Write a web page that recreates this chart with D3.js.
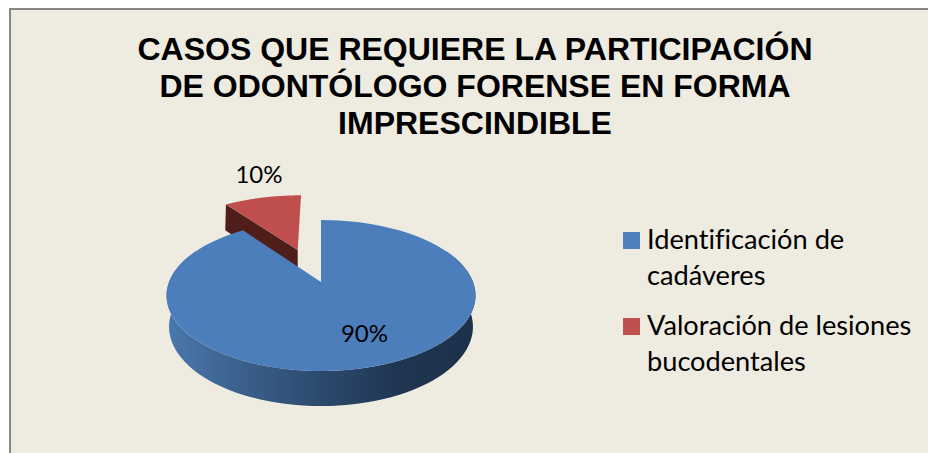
<!DOCTYPE html>
<html><head><meta charset="utf-8">
<script src="https://cdn.jsdelivr.net/npm/d3@7/dist/d3.min.js"></script>
<style>html,body{margin:0;padding:0;background:#fff}svg{display:block}text{font-variant-ligatures:none}</style>
</head><body><svg id="c" width="928" height="453"></svg>
<script>
const titleLines = ["CASOS QUE REQUIERE LA PARTICIPACIÓN","DE ODONTÓLOGO FORENSE EN FORMA","IMPRESCINDIBLE"];
const categories = ["Identificación de cadáveres","Valoración de lesiones bucodentales"];
const legendLines = [["Identificación de","cadáveres"],["Valoración de lesiones","bucodentales"]];
const values = [90,10];
const valueLabels = ["90%","10%"];

const svg = d3.select("#c");
const BG="#eeebe0", BLUE="#4c7ebb", RED="#be4f4c";
svg.append("rect").attr("x",10).attr("y",9).attr("width",930).attr("height",460)
  .attr("fill",BG).attr("stroke","#868686").attr("stroke-width",2);

const defs=svg.append("defs");
const g=defs.append("linearGradient").attr("id","side").attr("gradientUnits","userSpaceOnUse")
  .attr("x1",167).attr("x2",476).attr("y1",0).attr("y2",0);
[[0,"#4a78ad"],[.25,"#3a5f8a"],[.5,"#2c4a6e"],[.75,"#1f3551"],[1,"#1d304a"]]
  .forEach(([o,c])=>g.append("stop").attr("offset",o).attr("stop-color",c));

const arcs=d3.pie().sort(null).startAngle(0).endAngle(2*Math.PI)(values);
const blue=arcs[0], red=arcs[1];

const top3d={x0:321,y0:282,X:152,Y:73.1,k:.179};
const bot3d={x0:321,y0:314,X:150,Y:77.3,k:.16};
const proj=(p,u,v)=>{const w=1+p.k*v;return [p.x0+p.X*u/w,p.y0-p.Y*v/w];};
const line=d3.line();
const samples=(a,b)=>d3.range(0,81).map(i=>a+(b-a)*i/80);
const edge=(p,a,ox=0,oy=0,r=1)=>proj(p,r*Math.sin(a)+ox,r*Math.cos(a)+oy);

const mid=(red.startAngle+red.endAngle)/2, d=.5, rr=1.03;
const ox=Math.sin(mid)*d-.012, oy=Math.cos(mid)*d;
const redTop=[proj(top3d,ox,oy),...samples(red.startAngle,red.endAngle).map(a=>edge(top3d,a,ox,oy,rr))];
const cut=[proj(top3d,ox,oy),edge(top3d,red.startAngle,ox,oy,rr),edge(bot3d,red.startAngle,ox,oy,rr),proj(bot3d,ox,oy)];
svg.append("path").attr("d",line(cut)+"Z").attr("fill","#4f1e1b");
svg.append("path").attr("d",line(redTop)+"Z").attr("fill",RED);

const front=samples(Math.PI*.35,Math.PI*1.65);
const wall=[...front.map(a=>edge(top3d,a)),...front.slice().reverse().map(a=>edge(bot3d,a))];
svg.append("path").attr("d",line(wall)+"Z").attr("fill","url(#side)");
const blueTop=[proj(top3d,0,0),...samples(blue.startAngle,blue.endAngle).map(a=>edge(top3d,a))];
svg.append("path").attr("d",line(blueTop)+"Z").attr("fill",BLUE);

const body="Lato, Carlito, sans-serif";
const labelPos=[[364.5,342],[259,183]];
svg.selectAll("text.v").data(valueLabels).join("text").attr("class","v")
  .attr("x",(_,i)=>labelPos[i][0]).attr("y",(_,i)=>labelPos[i][1])
  .attr("text-anchor","middle").attr("font-family",body).attr("font-size",24).attr("fill","#000")
  .text(t=>t);

svg.selectAll("text.t").data(titleLines).join("text").attr("class","t")
  .attr("x",475).attr("y",(_,i)=>59.5+i*37)
  .attr("text-anchor","middle").attr("font-family","'Liberation Sans',Arial,sans-serif")
  .attr("font-weight","bold").attr("font-size",32).attr("fill","#000").text(t=>t);

const colors=d3.scaleOrdinal().domain(categories).range(["#4f81bd","#c0504d"]);
const leg=svg.selectAll("g.l").data(categories).join("g").attr("class","l")
  .attr("transform",(_,i)=>`translate(623,${i?318:232})`);
leg.append("rect").attr("width",17).attr("height",17).attr("fill",c=>colors(c));
leg.each(function(_,i){
  d3.select(this).selectAll("text").data(legendLines[i]).join("text")
   .attr("x",24).attr("y",(_,j)=>17+j*35.5)
   .attr("font-family",body).attr("font-size",27.2).attr("fill","#000").text(t=>t);
});
</script></body></html>
